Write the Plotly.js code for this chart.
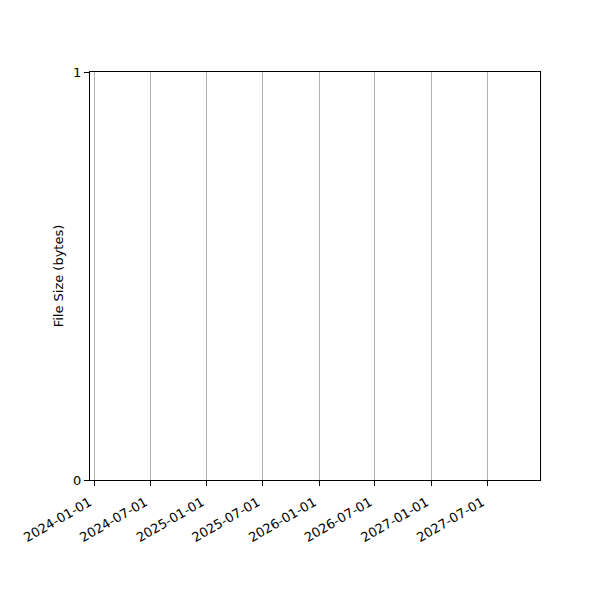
<!DOCTYPE html>
<html>
<head>
<meta charset="utf-8">
<script src="https://cdn.plot.ly/plotly-3.0.1.min.js"></script>
<style>body{margin:0;padding:0;background:#fff;}</style>
</head>
<body>
<div id="chart" style="width:600px;height:600px;"></div>
<script>
// no records in the log, so the series is empty
var dates = [];
var sizes = [];

var tickDates = ["2024-01-01", "2024-07-01", "2025-01-01", "2025-07-01",
                 "2026-01-01", "2026-07-01", "2027-01-01", "2027-07-01"];
var yTicks = [0, 1];

var trace = {
    type: "scatter",
    mode: "lines+markers",
    x: dates,
    y: sizes,
    line: {color: "#1f77b4"},
    showlegend: false
};

var layout = {
    width: 600,
    height: 600,
    margin: {l: 90, r: 60, t: 72, b: 120},
    paper_bgcolor: "white",
    plot_bgcolor: "white",
    font: {family: "DejaVu Sans", size: 13, color: "black"},
    xaxis: {
        type: "date",
        range: ["2023-12-18", "2027-12-20"],
        tickvals: tickDates,
        ticktext: tickDates,
        tickangle: -30,
        ticklabelstandoff: 4,
        ticklabelshift: -5,
        ticks: "outside",
        ticklen: 5,
        tickcolor: "black",
        showline: true,
        mirror: true,
        linecolor: "black",
        linewidth: 1,
        showgrid: true,
        gridcolor: "#b0b0b0",
        gridwidth: 1,
        zeroline: false,
        automargin: false
    },
    yaxis: {
        range: [0, 1],
        tickvals: yTicks,
        ticktext: yTicks.map(String),
        ticks: "outside",
        ticklen: 5,
        tickcolor: "black",
        showline: true,
        mirror: true,
        linecolor: "black",
        linewidth: 1,
        showgrid: false,
        zeroline: false,
        automargin: false,
        title: {text: "File Size (bytes)", standoff: 6, font: {size: 13}}
    }
};

Plotly.newPlot("chart", [trace], layout, {staticPlot: true});
</script>
</body>
</html>
